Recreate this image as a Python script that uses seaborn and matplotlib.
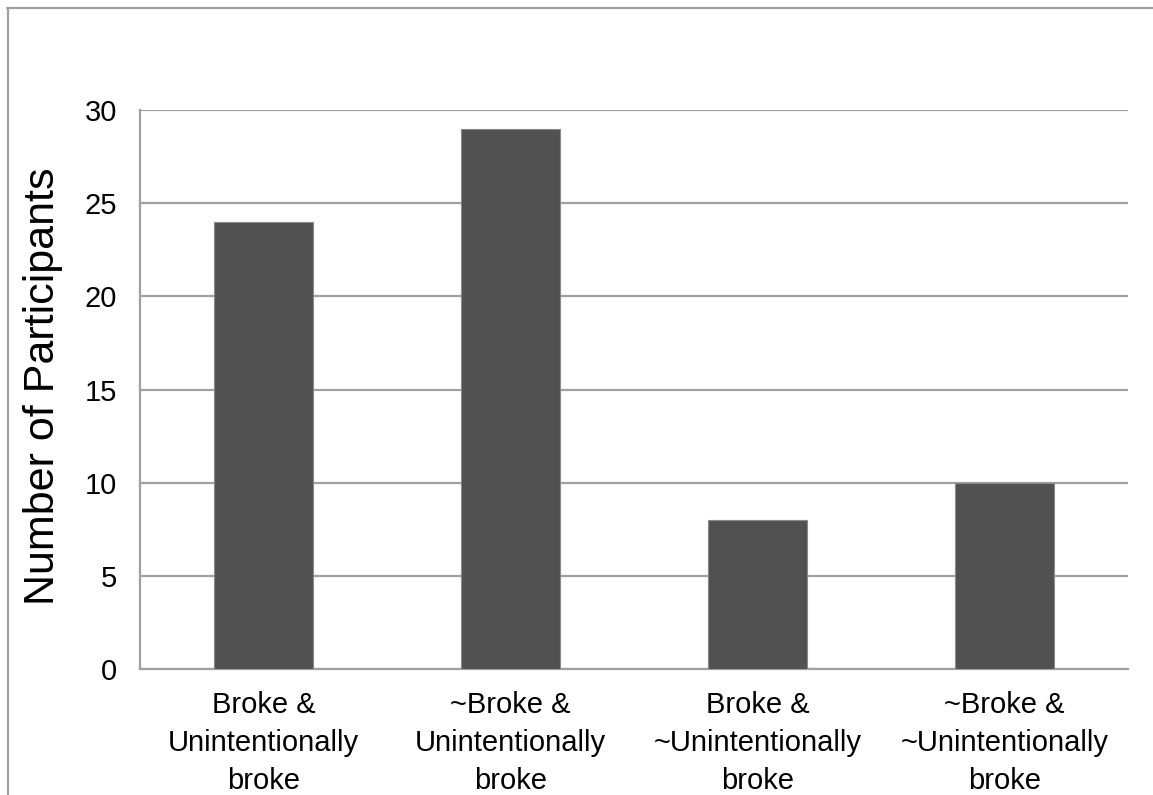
import matplotlib
matplotlib.use("Agg")
import matplotlib.pyplot as plt
from matplotlib.lines import Line2D
import seaborn as sns
import pandas as pd

categories = [
    "Broke &\nUnintentionally\nbroke",
    "~Broke &\nUnintentionally\nbroke",
    "Broke &\n~Unintentionally\nbroke",
    "~Broke &\n~Unintentionally\nbroke",
]
participants = [24, 29, 8, 10]
y_ticks = [0, 5, 10, 15, 20, 25, 30]

sns.set_theme(style="white")
plt.rcParams["font.family"] = ["Liberation Sans", "DejaVu Sans"]

df = pd.DataFrame({"category": categories, "count": participants})

W, H = 1153, 795
fig = plt.figure(figsize=(W / 100, H / 100), dpi=100)
fig.patch.set_facecolor("white")
ax = fig.add_axes([140 / W, 1 - 669 / H, (1128 - 140) / W, (669 - 110) / H])

grid_col = "#a0a0a0"
sns.barplot(data=df, x="category", y="count", color="#515151", width=0.4,
            saturation=1, edgecolor="#8a8a8a", linewidth=0.8, ax=ax, zorder=3)

ax.set_ylim(0, 30)
ax.set_xlim(-0.5, 3.5)
ax.set_yticks(y_ticks)
ax.set_yticklabels([str(t) for t in y_ticks])
ax.yaxis.grid(True, color=grid_col, linewidth=1.6, zorder=0)
ax.set_axisbelow(True)

for side in ("top", "right"):
    ax.spines[side].set_visible(False)
for side in ("left", "bottom"):
    ax.spines[side].set_color(grid_col)
    ax.spines[side].set_linewidth(1.6)

ax.tick_params(axis="y", length=0, pad=16.5, labelsize=21, labelcolor="black")
ax.tick_params(axis="x", length=0, pad=16, labelsize=21, labelcolor="black")
for lbl in ax.get_xticklabels():
    lbl.set_linespacing(1.45)

ax.set_xlabel("")
ax.set_ylabel("Number of Participants", fontsize=31, color="black")
ax.yaxis.set_label_coords(-0.078, 0.505)

# outer frame, top and left edges
fig.add_artist(Line2D([7 / W, 1.0], [1 - 7.5 / H, 1 - 7.5 / H],
                      color=grid_col, linewidth=1.6, transform=fig.transFigure))
fig.add_artist(Line2D([7.5 / W, 7.5 / W], [0.0, 1 - 7.5 / H],
                      color=grid_col, linewidth=1.6, transform=fig.transFigure))

fig.savefig("out.png", dpi=100, facecolor="white")
